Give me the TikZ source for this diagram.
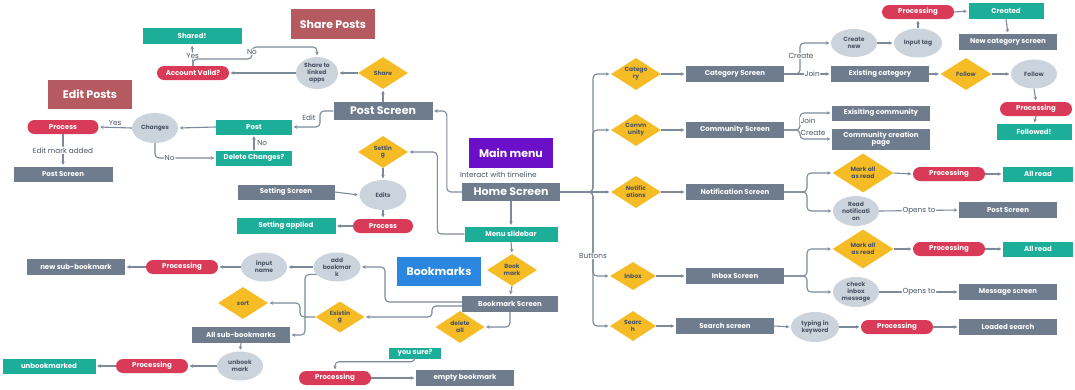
\documentclass[tikz,border=0pt]{standalone}
\usepackage{fontspec}
\setmainfont{Poppins}
\usetikzlibrary{arrows.meta,shapes.geometric}
\definecolor{gboxc}{HTML}{6F7C8D}
\definecolor{tboxc}{HTML}{1DAE9A}
\definecolor{rboxc}{HTML}{D93A57}
\definecolor{ellc}{HTML}{CBD3DD}
\definecolor{diac}{HTML}{F5BC26}
\definecolor{titc}{HTML}{B55A60}
\definecolor{purpc}{HTML}{6B0FC8}
\definecolor{bluc}{HTML}{2A86DE}
\definecolor{linc}{HTML}{7D8A9A}
\definecolor{txtc}{HTML}{4A5565}
\tikzset{
  base/.style={inner sep=0pt, align=center, font=\fontsize{7}{7.6}\selectfont\bfseries},
  screenbox/.style={base, fill=gboxc, text=white, minimum width=98pt, minimum height=16pt},
  bigscreen/.style={screenbox, minimum height=18pt, font=\fontsize{11}{12}\selectfont\bfseries},
  tealbox/.style={base, fill=tboxc, text=white, minimum width=75pt, minimum height=15pt},
  redpill/.style={base, fill=rboxc, text=white, minimum width=72pt, minimum height=14pt, rounded corners=7pt},
  bubble/.style={base, ellipse, fill=ellc, text=txtc, minimum width=46pt, minimum height=29pt, font=\fontsize{6}{6.8}\selectfont\bfseries},
  diam/.style={base, diamond, aspect=1.6, fill=diac, text=txtc, minimum width=50pt, minimum height=32pt, font=\fontsize{6}{6.8}\selectfont\bfseries},
  titlebox/.style={base, fill=titc, text=white, minimum width=84pt, minimum height=30pt, font=\fontsize{11}{12}\selectfont\bfseries},
  conn/.style={draw=linc, line width=1.1pt, rounded corners=4pt, -{Stealth[length=3.5pt,width=3.5pt]}, shorten >=1.5pt},
  lbl/.style={inner sep=0.8pt, font=\fontsize{7.3}{8}\selectfont, text=txtc},
}
\begin{document}
\begin{tikzpicture}[x=1pt,y=-1pt]
\useasboundingbox[fill=white] (0,0) rectangle (1075,389);
% titles
\node[titlebox] (shareposts) at (333,24) {Share Posts};
\node[titlebox, minimum height=29pt] (editposts) at (90,94) {Edit Posts};
\node[titlebox, fill=purpc] (mainmenu) at (511,153) {Main menu};
\node[titlebox, fill=bluc, minimum height=29pt] (bookmarks) at (439,271) {Bookmarks};
% gray screens
\node[bigscreen, minimum width=99pt] (postscr) at (383,111) {Post Screen};
\node[bigscreen] (home) at (511,192) {Home Screen};
\node[screenbox, minimum width=99pt, minimum height=15pt] (postL) at (63,174) {Post Screen};
\node[screenbox, minimum width=97pt, minimum height=15pt] (setscr) at (286,192) {Setting Screen};
\node[screenbox, minimum width=96pt] (bmscr) at (510,304) {Bookmark Screen};
\node[screenbox] (empty) at (465,378) {empty bookmark};
\node[screenbox] (allsub) at (241,335) {All sub-bookmarks};
\node[screenbox] (newsub) at (76,267) {new sub-bookmark};
\node[screenbox] (catscr) at (735,74) {Category Screen};
\node[screenbox] (commscr) at (735,130) {Community Screen};
\node[screenbox] (notscr) at (735,192) {Notification Screen};
\node[screenbox] (inboxscr) at (735,276) {Inbox Screen};
\node[screenbox] (searchscr) at (725,326) {Search screen};
\node[screenbox] (newcat) at (1008,42) {New category screen};
\node[screenbox] (existcat) at (880,74) {Existing category};
\node[screenbox, minimum height=15pt] (existcomm) at (881,113) {Exisiting community};
\node[screenbox, minimum height=21pt] (commcreate) at (881,139) {Community creation\\page};
\node[screenbox] (postR) at (1008,210) {Post Screen};
\node[screenbox] (msg) at (1008,292) {Message screen};
\node[screenbox] (loaded) at (1008,327) {Loaded search};
% teal
\node[tealbox, minimum width=99pt, minimum height=16pt] (shared) at (192,36) {Shared!};
\node[tealbox, minimum width=76pt] (post) at (254,127) {Post};
\node[tealbox, minimum width=76pt] (delch) at (254,158) {Delete Changes?};
\node[tealbox, minimum width=99pt, minimum height=16pt] (setapp) at (286,226) {Setting applied};
\node[tealbox, minimum width=93pt] (slide) at (511,234) {Menu slidebar};
\node[tealbox, minimum width=52pt, minimum height=11pt] (yousure) at (415,353) {you sure?};
\node[tealbox, minimum width=93pt] (unbmd) at (49,366) {unbookmarked};
\node[tealbox, minimum height=16pt] (created) at (1006,11) {Created};
\node[tealbox, minimum height=16pt] (followed) at (1034,132) {Followed!};
\node[tealbox, minimum width=70pt] (allread1) at (1038,174) {All read};
\node[tealbox, minimum width=70pt] (allread2) at (1038,249) {All read};
% red pills
\node[redpill] (acc) at (193,73) {Account Valid?};
\node[redpill, minimum width=71pt] (proc1) at (63,127) {Process};
\node[redpill, minimum width=60pt] (proc2) at (383,226) {Process};
\node[redpill] (proc3) at (335,378) {Processing};
\node[redpill] (proc4) at (182,267) {Processing};
\node[redpill] (proc5) at (152,366) {Processing};
\node[redpill] (proctop) at (918,12) {Processing};
\node[redpill] (procfol) at (1036,109) {Processing};
\node[redpill] (procN) at (949,174) {Processing};
\node[redpill] (procI) at (949,249) {Processing};
\node[redpill] (procS) at (897,327) {Processing};
% ellipses
\node[bubble, minimum width=42pt, minimum height=32pt] (link) at (317,73) {Share to\\linked\\apps};
\node[bubble, minimum height=30pt] (changes) at (155,128) {Changes};
\node[bubble, minimum width=47pt, minimum height=30pt] (edits) at (383,195) {Edits};
\node[bubble] (inname) at (264,267) {input\\name};
\node[bubble, minimum width=47pt] (addbm) at (337,267) {add\\bookmar\\k};
\node[bubble] (unbm) at (240,366) {unbook\\mark};
\node[bubble, minimum height=28pt] (createnew) at (854,43) {Create\\new};
\node[bubble, minimum width=48pt] (inputtag) at (918,43) {Input tag};
\node[bubble] (followE) at (1034,74) {Follow};
\node[bubble, minimum height=30pt] (readnot) at (856,211) {Read\\notificati\\on};
\node[bubble, minimum height=30pt] (check) at (856,292) {check\\inbox\\message};
\node[bubble, minimum width=48pt, minimum height=30pt] (typing) at (815,327) {typing in\\keyword};
% diamonds
\node[diam] (share) at (383,73) {Share};
\node[diam] (setting) at (383,152) {Settin\\g};
\node[diam] (bm) at (512,270) {Book\\mark};
\node[diam, minimum width=49pt] (delall) at (460,327) {delete\\all};
\node[diam, minimum width=49pt, minimum height=31pt] (exist) at (340,317) {Existin\\g};
\node[diam] (sort) at (243,303) {sort};
\node[diam] (cat) at (636,74) {Catego\\ry};
\node[diam] (comm) at (636,130) {Comm\\unity};
\node[diam] (notif) at (636,192) {Notific\\ations};
\node[diam, minimum width=46pt, minimum height=28pt] (inbox) at (633,276) {Inbox};
\node[diam, minimum width=46pt, minimum height=30pt] (search) at (633,326) {Searc\\h};
\node[diam, minimum width=51pt] (follow) at (966,74) {Follow};
\node[diam, minimum width=61pt, minimum height=39pt] (markN) at (863,173) {Mark all\\as read};
\node[diam, minimum width=61pt, minimum height=39pt] (markI) at (863,249) {Mark all\\as read};
% ---- connectors: share / edit posts
\draw[conn] (acc.north) -- (shared.south) node[lbl, fill=white, pos=0.45] {Yes};
\draw[conn] (acc.north) |- (252,59) |- (317,47) -- (link.north);
\node[lbl, fill=white] (nolbl) at (252,52) {No};
\draw[conn] (link.west) -- (acc.east);
\draw[conn] (share.west) -- (link.east);
\draw[conn] (postscr.north) -- (share.south);
\draw[conn] (postscr.west) -- (320,111) |- (post.east);
\node[lbl] (editlbl) at (309,118) {Edit};
\draw[conn] (post.west) -- (changes.east);
\draw[conn] (changes.west) -- (proc1.east) node[lbl, midway, above=1pt] {Yes};
\draw[conn] (changes.south) |- (delch.west) node[lbl, fill=white, pos=0.62] {No};
\draw[conn] (delch.north) -- (post.south) node[lbl, midway, right=2pt] {No};
\draw[conn] (proc1.south) -- (postL.north) node[lbl, fill=white, midway] {Edit mark added};
% ---- home / settings
\node[lbl, anchor=west] (interact) at (459,175) {Interact with timeline};
\draw[conn] (home.west) -- ++(-15,0) |- (postscr.east);
\draw[conn] (slide.west) -- ++(-27,0) |- (setting.east);
\draw[conn] (setting.south) -- (edits.north);
\draw[conn] (setscr.east) -- (edits.west);
\draw[conn] (edits.south) -- (proc2.north);
\draw[conn] (proc2.west) -- (setapp.east);
\draw[conn] (home.south) -- (slide.north);
\draw[conn] (slide.south) -- (bm.north);
\draw[conn] (bm.south) -- (bmscr.north);
% ---- bookmarks
\draw[conn] ([yshift=2pt]bmscr.west) -- (385,302) |- (addbm.east);
\draw[conn] ([yshift=-2pt]bmscr.west) -- (432,306) |- (exist.east);
\draw[conn] (bmscr.south) |- (delall.east);
\draw[conn] (yousure.south) -- ++(0,3) -| (proc3.north);
\draw[conn] (proc3.east) -- (empty.west);
\draw[conn] (addbm.west) -- (inname.east);
\draw[conn] (inname.west) -- (proc4.east);
\draw[conn] (proc4.west) -- (newsub.east);
\draw[conn] (exist.west) -- (300,317) |- (sort.east);
\draw[conn] (addbm.200) -| (305,335) -- (allsub.east);
\draw[conn] (allsub.south) -- (unbm.north);
\draw[conn] (unbm.west) -- (proc5.east);
\draw[conn] (proc5.west) -- (unbmd.east);
% ---- buttons bus
\draw[conn] (home.east) -- (593,192) |- (cat.west);
\draw[conn] (home.east) -- (593,192) |- (comm.west);
\draw[conn] (home.east) -- (notif.west);
\draw[conn] (home.east) -- (593,192) |- (inbox.west);
\draw[conn] (home.east) -- (593,192) |- (search.west);
\node[lbl, fill=white] (buttons) at (593,256) {Buttons};
\draw[conn] (cat.east) -- (catscr.west);
\draw[conn] (comm.east) -- (commscr.west);
\draw[conn] (notif.east) -- (notscr.west);
\draw[conn] (inbox.east) -- (inboxscr.west);
\draw[conn] (search.east) -- (searchscr.west);
% ---- category
\draw[conn] (catscr.east) -- (800,74) |- (createnew.west);
\node[lbl, fill=white] (createlbl) at (801,56) {Create};
\draw[conn] (catscr.east) -- (existcat.west) node[lbl, fill=white, pos=0.6] {Join};
\draw[conn] (createnew.east) -- (inputtag.west);
\draw[conn] (inputtag.north) -- (proctop.south);
\draw[conn] (proctop.east) -- (created.west);
\draw[conn] (created.south) -- (newcat.north);
\draw[conn] (existcat.east) -- (follow.west);
\draw[conn] (follow.east) -- (followE.west);
\draw[conn] (followE.south) -- (procfol.north);
\draw[conn] (procfol.south) -- (followed.north);
% ---- community
\draw[conn] (commscr.east) -- (800,130) |- (existcomm.west);
\node[lbl, fill=white] (joinlbl) at (808,121) {Join};
\draw[conn] (commscr.east) -- (800,130) |- (commcreate.west);
\node[lbl] (createlbl2) at (813,133) {Create};
% ---- notifications
\draw[conn] (notscr.east) -- (807,192) |- (markN.west);
\draw[conn] (notscr.east) -- (807,192) |- (readnot.west);
\draw[conn] (markN.east) -- (procN.west);
\draw[conn] (procN.east) -- (allread1.west);
\draw[conn] (readnot.east) -- (postR.west) node[lbl, fill=white, midway] {Opens to};
% ---- inbox
\draw[conn] (inboxscr.east) -- (807,276) |- (markI.west);
\draw[conn] (inboxscr.east) -- (807,276) |- (check.west);
\draw[conn] (markI.east) -- (procI.west);
\draw[conn] (procI.east) -- (allread2.west);
\draw[conn] (check.east) -- (msg.west) node[lbl, fill=white, midway] {Opens to};
% ---- search
\draw[conn] (searchscr.east) -- (typing.west);
\draw[conn] (typing.east) -- (procS.west);
\draw[conn] (procS.east) -- (loaded.west);
\end{tikzpicture}
\end{document}
